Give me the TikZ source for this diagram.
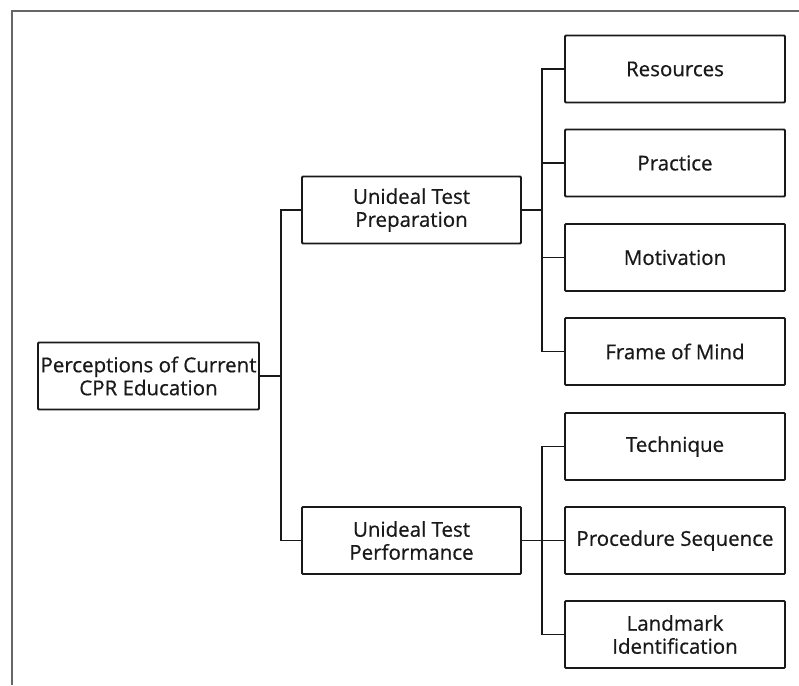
\documentclass[tikz,border=0pt]{standalone}
\usepackage{fontspec}
\setmainfont{Open Sans}
\newfontfamily\boxfont[FakeBold=0.6]{Open Sans}
\begin{document}
\begin{tikzpicture}[x=1pt,y=-1pt,
  box/.style={draw=black!90, line width=1.8pt, rounded corners=1pt, minimum width=220pt, minimum height=67pt,
    align=center, inner sep=0pt, text=black!90, font=\boxfont\fontsize{20.5}{23}\selectfont},
  link/.style={draw=black!90, line width=1.6pt}]
\useasboundingbox (0,0) rectangle (799,685);
\draw[line width=1.6pt, black!60] (12,685) -- (12,11) -- (799,11);
\node[box, minimum width=221pt] (root) at (148.5,376) {Perceptions of Current\\CPR Education};
\node[box, minimum width=219pt] (prep) at (411.5,210) {Unideal Test\\Preparation};
\node[box, minimum width=219pt] (perf) at (411.5,540.5) {Unideal Test\\Performance};
\node[box] (res) at (675,69) {Resources};
\node[box] (prac) at (675,163) {Practice};
\node[box] (mot) at (675,257.5) {Motivation};
\node[box] (fom) at (675,351.5) {Frame of Mind};
\node[box] (tech) at (675,446.5) {Technique};
\node[box] (proc) at (675,540.5) {Procedure Sequence};
\node[box] (land) at (675,634.5) {Landmark\\Identification};
\coordinate (j1) at (281,376);
\coordinate (j2) at (542,210);
\coordinate (j3) at (542,540.5);
\draw[link] (root.east) -- (j1);
\draw[link] (prep.west) -| (j1) |- (perf.west);
\draw[link] (prep.east) -- (j2);
\draw[link] (res.west) -| (j2) |- (fom.west);
\draw[link] (prac.west) -- (prac.west -| j2);
\draw[link] (mot.west) -- (mot.west -| j2);
\draw[link] (perf.east) -- (j3);
\draw[link] (tech.west) -| (j3) |- (land.west);
\draw[link] (proc.west) -- (j3);
\end{tikzpicture}
\end{document}
